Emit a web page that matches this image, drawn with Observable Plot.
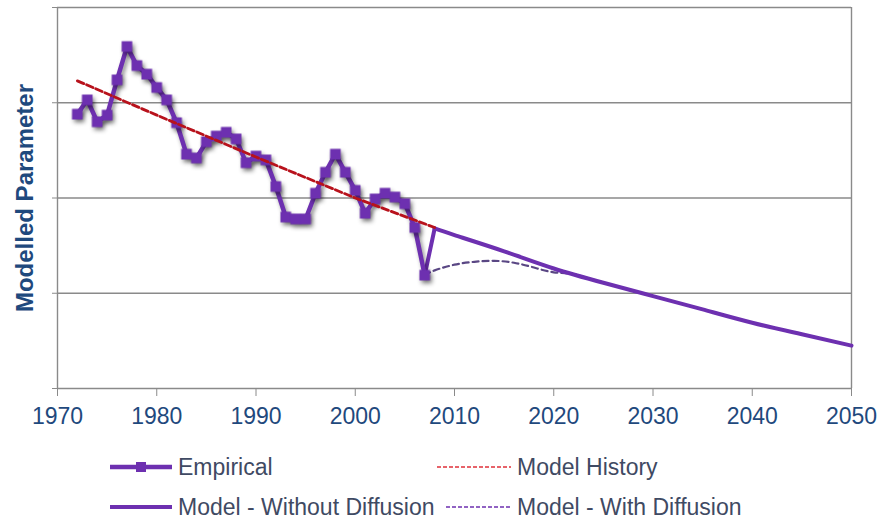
<!DOCTYPE html>
<html>
<head>
<meta charset="utf-8">
<script src="https://cdn.jsdelivr.net/npm/d3@7"></script>
<script src="https://cdn.jsdelivr.net/npm/@observablehq/plot@0.6"></script>
<style>
  html, body { margin: 0; padding: 0; background: #fff; }
  #chart { position: relative; width: 880px; height: 520px; font-family: "Liberation Sans", Arial, sans-serif; }
  #legend { position: relative; width: 880px; height: 80px; }
  .item { position: absolute; display: flex; align-items: center; height: 24px; }
  .item span { font-size: 23px; line-height: 23px; color: #3f4a63; white-space: nowrap; }
  .item svg { display: block; }
</style>
</head>
<body>
<div id="chart">
  <div id="plot"></div>
  <div id="legend"></div>
</div>
<script>
// Observed series, one value per year
const empiricalYears = [1972, 1973, 1974, 1975, 1976, 1977, 1978, 1979, 1980, 1981, 1982, 1983,
  1984, 1985, 1986, 1987, 1988, 1989, 1990, 1991, 1992, 1993, 1994, 1995,
  1996, 1997, 1998, 1999, 2000, 2001, 2002, 2003, 2004, 2005, 2006, 2007];
const empiricalValues = [2.88, 3.03, 2.80, 2.87, 3.24, 3.59, 3.39, 3.30, 3.16, 3.03, 2.79, 2.46,
  2.42, 2.59, 2.65, 2.69, 2.62, 2.37, 2.44, 2.40, 2.12, 1.80, 1.78, 1.78,
  2.05, 2.27, 2.46, 2.27, 2.08, 1.84, 1.99, 2.05, 2.01, 1.94, 1.69, 1.19];

// Fitted model over the historical period
const historyYears = [1972, 1980, 1990, 2000, 2008];
const historyValues = [3.23, 2.87, 2.43, 2.00, 1.69];

// Projection without diffusion (first point joins the last observation)
const noDiffusionYears = [2007, 2008, 2010, 2015, 2020, 2025, 2030, 2035, 2040, 2045, 2050];
const noDiffusionValues = [1.19, 1.68, 1.61, 1.44, 1.26, 1.11, 0.97, 0.83, 0.69, 0.57, 0.45];

// Projection with diffusion
const diffusionYears = [2007, 2008, 2010, 2012, 2014, 2016, 2018, 2020, 2022, 2025, 2030, 2035, 2040, 2045, 2050];
const diffusionValues = [1.19, 1.24, 1.30, 1.33, 1.34, 1.32, 1.27, 1.22, 1.20, 1.11, 0.97, 0.83, 0.69, 0.57, 0.45];

const xTicks = [1970, 1980, 1990, 2000, 2010, 2020, 2030, 2040, 2050];
const yGrid = [1, 2, 3, 4];
const yTicks = [0, 1, 2, 3, 4];

const toRows = (xs, ys) => xs.map((year, i) => ({year, value: ys[i]}));
const empirical = toRows(empiricalYears, empiricalValues);
const history = toRows(historyYears, historyValues);
const noDiffusion = toRows(noDiffusionYears, noDiffusionValues);
const diffusion = toRows(diffusionYears, diffusionValues);

const purple = "#6d30b0";
const red = "#b8121c";
const gridColor = "#8a8a8a";
const textBlue = "#1f497d";

const chart = Plot.plot({
  width: 880,
  height: 440,
  marginTop: 7,
  marginBottom: 52,
  marginLeft: 57,
  marginRight: 29,
  style: {fontFamily: "'Liberation Sans', Arial, sans-serif", fontSize: "23px", background: "#fff", overflow: "visible"},
  x: {domain: [1970, 2050]},
  y: {domain: [0, 4]},
  marks: [
    Plot.gridY(yGrid, {stroke: gridColor, strokeOpacity: 1, strokeWidth: 1.4}),
    Plot.ruleX([1970, 2050], {stroke: gridColor, strokeWidth: 1.4}),
    Plot.ruleY([0], {stroke: gridColor, strokeWidth: 1.4}),
    Plot.axisX({ticks: xTicks, tickFormat: d => String(d), tickSize: 8, tickPadding: 11,
      stroke: gridColor, fill: textBlue, label: null, fontSize: 23}),
    Plot.axisY({ticks: yTicks, tickFormat: () => "", tickSize: 5, stroke: gridColor, label: null}),
    Plot.text(["Modelled Parameter"], {frameAnchor: "left", rotate: -90, dx: -32, textAnchor: "middle",
      fontWeight: "bold", fontSize: 24, fill: textBlue}),
    Plot.line(diffusion, {x: "year", y: "value", stroke: "#5a4784", strokeWidth: 2.2,
      strokeDasharray: "6,4", curve: "natural"}),
    // short link from the last observation up to the projection start
    Plot.line(noDiffusion.slice(0, 2), {x: "year", y: "value", stroke: purple, strokeWidth: 4}),
    Plot.line(noDiffusion.slice(1), {x: "year", y: "value", stroke: purple, strokeWidth: 4, curve: "natural"}),
    Plot.line(empirical, {x: "year", y: "value", stroke: purple, strokeWidth: 4.5}),
    Plot.dot(empirical, {x: "year", y: "value", symbol: "square", r: 6, fill: purple, stroke: "none"}),
    Plot.line(history, {x: "year", y: "value", stroke: red, strokeWidth: 2.8, strokeDasharray: "7,3"})
  ]
});

// soft drop shadow under the observed series
const lines = chart.querySelectorAll('g[aria-label="line"]');
if (lines[3]) lines[3].style.filter = "drop-shadow(2px 3px 2px rgba(0,0,0,0.45))";
const dots = chart.querySelector('g[aria-label="dot"]');
if (dots) dots.style.filter = "drop-shadow(2px 3px 2px rgba(0,0,0,0.45))";

document.getElementById("plot").appendChild(chart);

// legend below the chart
const legendItems = [
  {label: "Empirical", left: 110, top: 15, width: 62, stroke: purple, width2: 4.5, dash: null, marker: true},
  {label: "Model History", left: 437, top: 15, width: 74, stroke: "#e0303a", width2: 1.5, dash: "4,2", marker: false},
  {label: "Model - Without Diffusion", left: 110, top: 55, width: 62, stroke: purple, width2: 4, dash: null, marker: false},
  {label: "Model - With Diffusion", left: 446, top: 55, width: 65, stroke: purple, width2: 1.5, dash: "4,2", marker: false}
];
const legend = d3.select("#legend");
for (const it of legendItems) {
  const div = legend.append("div").attr("class", "item")
    .style("left", it.left + "px").style("top", it.top + "px");
  const s = div.append("svg").attr("width", it.width).attr("height", 24);
  s.append("line").attr("x1", 0).attr("x2", it.width).attr("y1", 12).attr("y2", 12)
    .attr("stroke", it.stroke).attr("stroke-width", it.width2)
    .attr("stroke-dasharray", it.dash);
  if (it.marker) {
    s.append("rect").attr("x", it.width / 2 - 5).attr("y", 7).attr("width", 10).attr("height", 10)
      .attr("fill", it.stroke);
  }
  div.append("span").style("margin-left", "6px").text(it.label);
}
</script>
</body>
</html>
